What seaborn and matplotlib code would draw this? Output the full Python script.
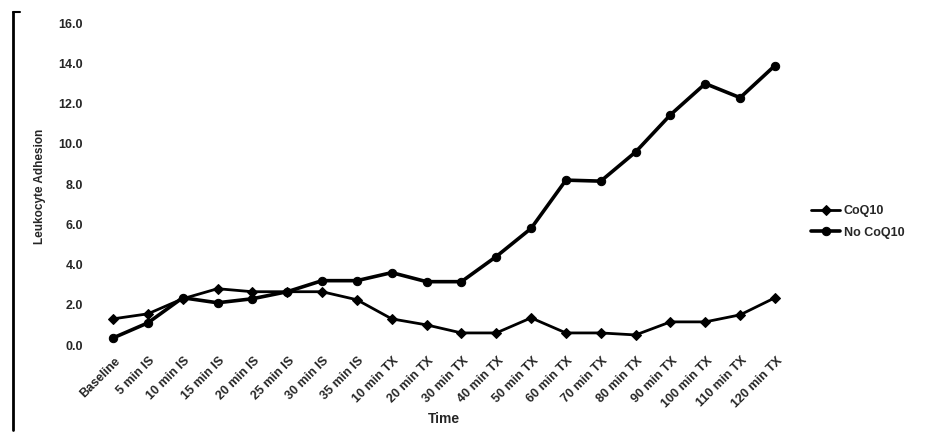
import matplotlib
matplotlib.use("Agg")
import matplotlib.pyplot as plt
import matplotlib.transforms as mtransforms
from matplotlib.lines import Line2D
import seaborn as sns
import pandas as pd

time_labels = ["Baseline", "5 min IS", "10 min IS", "15 min IS", "20 min IS",
               "25 min IS", "30 min IS", "35 min IS", "10 min TX", "20 min TX",
               "30 min TX", "40 min TX", "50 min TX", "60 min TX", "70 min TX",
               "80 min TX", "90 min TX", "100 min TX", "110 min TX", "120 min TX"]
coq10 = [1.3, 1.55, 2.3, 2.8, 2.65, 2.65, 2.65, 2.25, 1.3, 1.0, 0.6, 0.6, 1.35,
         0.6, 0.6, 0.5, 1.15, 1.15, 1.5, 2.35]
no_coq10 = [0.35, 1.1, 2.35, 2.1, 2.3, 2.65, 3.2, 3.2, 3.6, 3.15, 3.15, 4.4,
            5.8, 8.2, 8.15, 9.6, 11.45, 13.0, 12.3, 13.9]
series_names = ["CoQ10", "No CoQ10"]
y_ticks = [0, 2, 4, 6, 8, 10, 12, 14, 16]

sns.set_theme(style="white")
plt.rcParams["font.family"] = ["Liberation Sans", "DejaVu Sans"]
plt.rcParams["font.weight"] = "bold"

W, H = 926, 434
fig = plt.figure(figsize=(W / 100, H / 100), dpi=100)
left_px, right_px = 95.6, 792.4
bot_px, top_px = 345, 23.3
ax = fig.add_axes([left_px / W, 1 - bot_px / H, (right_px - left_px) / W,
                   (bot_px - top_px) / H])

idx = list(range(len(time_labels)))
df_a = pd.DataFrame({"x": idx, "y": coq10})
df_b = pd.DataFrame({"x": idx, "y": no_coq10})

sns.lineplot(data=df_a, x="x", y="y", ax=ax, color="black", linewidth=2.0,
             marker="D", markersize=5.5, markeredgecolor="black",
             label=series_names[0], clip_on=False)
sns.lineplot(data=df_b, x="x", y="y", ax=ax, color="black", linewidth=2.6,
             marker="o", markersize=6, markeredgecolor="black",
             label=series_names[1], clip_on=False)

ax.set_xlim(-0.5, len(time_labels) - 0.5)
ax.set_ylim(0, 16)
ax.set_yticks(y_ticks)
ax.set_yticklabels([f"{v:.1f}" for v in y_ticks], fontsize=9, fontweight="bold")
ax.set_xticks(idx)
ax.set_xticklabels(time_labels, rotation=45, ha="right", va="top",
                   rotation_mode="anchor", fontsize=9, fontweight="bold")
ax.tick_params(axis="x", pad=7, length=0)
ax.tick_params(axis="y", pad=9, length=0)
offset = mtransforms.ScaledTranslation(1 / 100, 0, fig.dpi_scale_trans)
for lab in ax.get_xticklabels():
    lab.set_transform(lab.get_transform() + offset)

for s in ax.spines.values():
    s.set_visible(False)
ax.grid(False)

ax.set_xlabel("Time", fontsize=10, fontweight="bold")
ax.xaxis.set_label_coords(0.5, -(412 - bot_px) / (bot_px - top_px))
ax.xaxis.label.set_va("top")
ax.set_ylabel("Leukocyte Adhesion", fontsize=8.5, fontweight="bold")
ax.yaxis.set_label_coords(-(left_px - 46) / (right_px - left_px), (bot_px - 186) / (bot_px - top_px))

leg = ax.legend(loc="center left", bbox_to_anchor=(800 / W, 1 - 222 / H),
                bbox_transform=fig.transFigure, frameon=False, fontsize=9,
                handlelength=2.3, handletextpad=0.3, labelspacing=0.75)
for t in leg.get_texts():
    t.set_fontweight("bold")

fig.add_artist(Line2D([13 / W, 13 / W], [1 - 430 / H, 1 - 12 / H],
                      transform=fig.transFigure, color="black", linewidth=2))
fig.add_artist(Line2D([13 / W, 20 / W], [1 - 12 / H, 1 - 12 / H],
                      transform=fig.transFigure, color="black", linewidth=1.5))

fig.savefig("out.png", dpi=100)
